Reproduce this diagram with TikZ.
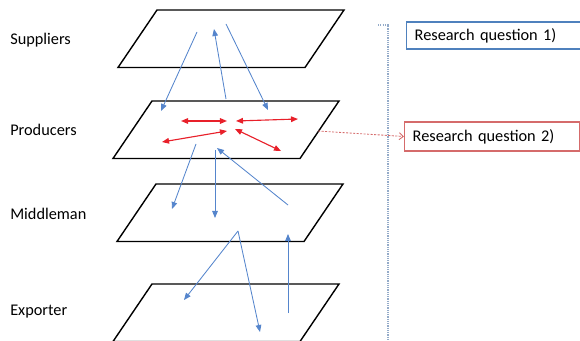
\documentclass[tikz,border=0pt]{standalone}
\usepackage{fontspec}
\setmainfont{Carlito}
\usepackage{xcolor}
\usetikzlibrary{arrows.meta}

\definecolor{flowblue}{HTML}{5585CC}
\definecolor{tradered}{HTML}{E8202A}
\definecolor{rqblue}{HTML}{4F81BD}
\definecolor{rqred}{HTML}{D56B6B}
\definecolor{guidegray}{HTML}{94ABC9}

\tikzset{
  plane/.style={draw=black, line width=1pt},
  tier/.style={anchor=base west, inner sep=0pt},
  flow/.style={->, flowblue, line width=0.6pt},
  trade/.style={<->, tradered, line width=0.8pt},
  rqbox/.style={draw, line width=1pt, anchor=west, align=left, text width=3.975cm, inner xsep=0.2cm, inner ysep=0pt},
}

\begin{document}
\begin{tikzpicture}[x=0.025cm, y=-0.025cm, >={Triangle[length=5pt, width=4pt]}, font=\fontsize{11.6}{14}\selectfont]
    \clip (0,0) rectangle (580,341);
    % the four layers
    \foreach \x/\y in {157/10, 152/101, 156/184, 152/284}
        \draw[plane] (\x,\y) -- ++(187,0) -- ++(-39,57.5) -- ++(-187,0) -- cycle;
    \node[tier] (sup) at (10,45) {Suppliers};
    \node[tier] (pro) at (10,136) {Producers};
    \node[tier] (mid) at (10,220) {Middleman};
    \node[tier] (exp) at (10,315) {Exporter};

    % suppliers <-> producers
    \coordinate (s1) at (197,32);   \coordinate (p1) at (161,111);
    \coordinate (p2) at (226,99);   \coordinate (s2) at (214,29);
    \coordinate (s3) at (226,24);   \coordinate (p3) at (268,110);
    \draw[flow] (s1) -- (p1);
    \draw[flow] (p2) -- (s2);
    \draw[flow] (s3) -- (p3);

    % among producers
    \coordinate (r1a) at (181,121); \coordinate (r1b) at (227,121);
    \coordinate (r2a) at (236,121); \coordinate (r2b) at (298,119);
    \coordinate (r3a) at (162,142); \coordinate (r3b) at (227,131);
    \coordinate (r4a) at (235,129); \coordinate (r4b) at (281,151);
    \draw[trade] (r1a) -- (r1b);
    \draw[trade] (r2a) -- (r2b);
    \draw[trade] (r3a) -- (r3b);
    \draw[trade] (r4a) -- (r4b);

    % producers <-> middleman
    \coordinate (p4) at (196,144);  \coordinate (m1) at (172,209);
    \coordinate (p5) at (215,150);  \coordinate (m2) at (215,218);
    \coordinate (m3) at (288,205);  \coordinate (p6) at (217,148);
    \draw[flow] (p4) -- (m1);
    \draw[flow] (p5) -- (m2);
    \draw[flow] (m3) -- (p6);

    % middleman <-> exporter
    \coordinate (m4) at (238,231);
    \coordinate (e1) at (184,300);
    \coordinate (e2) at (260,332);
    \coordinate (e3) at (288,313);  \coordinate (m5) at (288,234);
    \draw[flow] (m4) -- (e1);
    \draw[flow] (m4) -- (e2);
    \draw[flow] (e3) -- (m5);

    % research questions
    \coordinate (gtop) at (378,25);
    \coordinate (gbot) at (388,345);
    \draw[guidegray, line width=0.8pt, dash pattern=on 0.8pt off 0.8pt] (gtop) -- (gtop -| gbot) -- (gbot);
    \node[rqbox, draw=rqblue, minimum height=0.675cm] (rq1) at (406,35.5) {Research question 1)};
    \node[rqbox, draw=rqred, minimum height=0.725cm] (rq2) at (404,136.5) {Research question 2)};
    \coordinate (pedge) at (318,131);
    \draw[->, >={Straight Barb[length=3pt, width=5pt]}, rqred, line width=0.6pt, dash pattern=on 1.5pt off 1pt] (pedge) -- (rq2.west);
\end{tikzpicture}
\end{document}
